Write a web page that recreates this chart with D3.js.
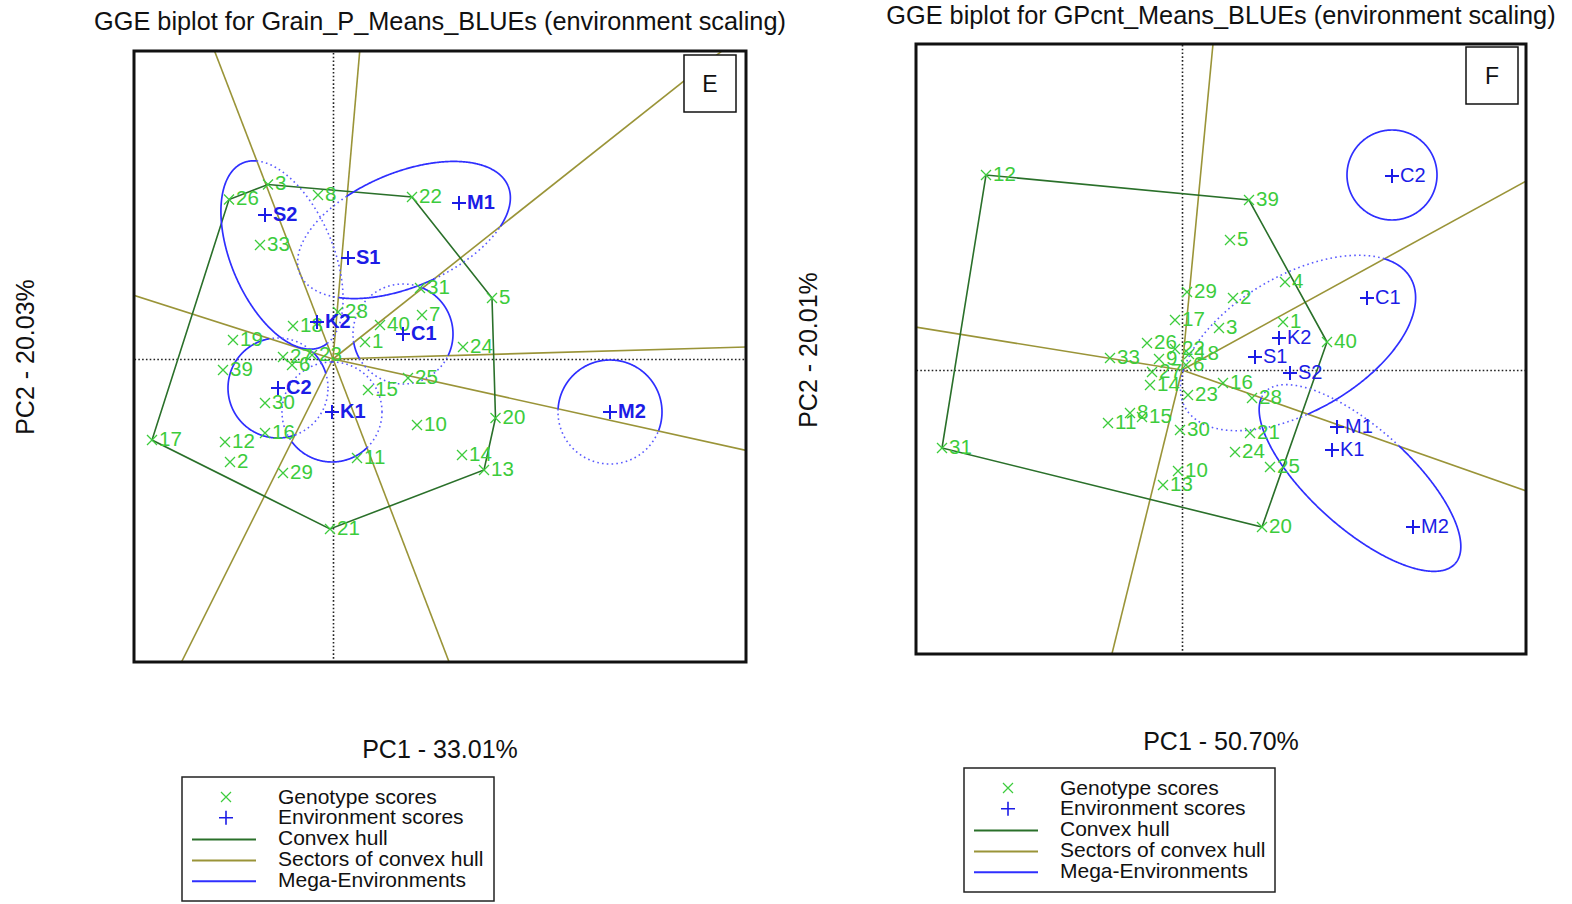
<!DOCTYPE html>
<html><head><meta charset="utf-8">
<script src="https://cdn.jsdelivr.net/npm/d3@7"></script>
<style>
body{margin:0;background:#fff}
svg{display:block}
text{font-family:"Liberation Sans",Arial,Helvetica,sans-serif}
</style>
</head><body>
<svg id="chart" width="1572" height="904"></svg>
<script>
// ---------------- Panel E : Grain_P ----------------
const titleE = "GGE biplot for Grain_P_Means_BLUEs (environment scaling)";
const xLabelE = "PC1 - 33.01%";
const yLabelE = "PC2 - 20.03%";
const pc1RangeE = [-1.99, 4.13];
const pc2RangeE = [-3.03, 3.08];
const genotypesE = [
  ["1",0.32,0.17],["2",-1.03,-1.03],["3",-0.65,1.745],["5",1.59,0.61],["6",-0.41,-0.06],
  ["7",0.89,0.44],["8",-0.15,1.64],["10",0.84,-0.66],["11",0.24,-0.99],["12",-1.08,-0.83],
  ["13",1.51,-1.11],["14",1.29,-0.96],["15",0.35,-0.31],["16",-0.68,-0.74],["17",-1.81,-0.81],
  ["18",-0.40,0.33],["19",-1.00,0.19],["20",1.625,-0.59],["21",-0.03,-1.70],["22",0.79,1.62],
  ["23",-0.21,0.04],["24",1.30,0.12],["25",0.75,-0.19],["26",-1.04,1.595],["27",-0.50,0.02],
  ["28",0.05,0.47],["29",-0.50,-1.14],["30",-0.68,-0.44],["31",0.87,0.71],["33",-0.73,1.14],
  ["39",-1.10,-0.11],["40",0.47,0.34]
];
const environmentsE = [
  ["S2",-0.68,1.44],["S1",0.15,1.01],["M1",1.26,1.56],["K2",-0.16,0.37],
  ["C1",0.70,0.25],["C2",-0.55,-0.29],["K1",-0.01,-0.53],["M2",2.77,-0.53]
];
// mega-environments: members, centre pc1, centre pc2, semi-axis a, semi-axis b, rotation (deg)
const megaEnvE = [
  [["S2","K2"],-0.51,1.04,1.00,0.51,-67],
  [["M1","S1"],0.71,1.29,1.13,0.57,23],
  [["C1"],0.70,0.25,0.50,0.50,0],
  [["C2"],-0.55,-0.29,0.50,0.50,0],
  [["K1"],-0.01,-0.53,0.50,0.50,0],
  [["M2"],2.77,-0.53,0.52,0.52,0]
];

// ---------------- Panel F : GPcnt ----------------
const titleF = "GGE biplot for GPcnt_Means_BLUEs (environment scaling)";
const xLabelF = "PC1 - 50.70%";
const yLabelF = "PC2 - 20.01%";
const pc1RangeF = [-2.66, 3.44];
const pc2RangeF = [-2.84, 3.26];
const genotypesF = [
  ["1",1.01,0.48],["2",0.51,0.72],["3",0.37,0.42],["4",1.03,0.88],["5",0.48,1.30],
  ["6",0.04,0.05],["8",-0.52,-0.43],["9",-0.23,0.11],["10",-0.04,-1.01],["11",-0.74,-0.53],
  ["12",-1.96,1.95],["13",-0.19,-1.15],["14",-0.32,-0.15],["15",-0.40,-0.47],["16",0.41,-0.13],
  ["17",-0.07,0.50],["18",0.07,0.16],["20",0.80,-1.57],["21",0.68,-0.63],["22",-0.07,0.21],
  ["23",0.06,-0.25],["24",0.53,-0.82],["25",0.88,-0.97],["26",-0.35,0.27],["27",-0.30,-0.02],
  ["28",0.70,-0.28],["29",0.05,0.78],["30",-0.02,-0.60],["31",-2.40,-0.78],["33",-0.72,0.12],
  ["39",0.67,1.70],["40",1.45,0.28]
];
const environmentsF = [
  ["C2",2.10,1.94],["C1",1.85,0.72],["K2",0.97,0.32],["S1",0.73,0.13],
  ["S2",1.08,-0.03],["M1",1.55,-0.57],["K1",1.50,-0.80],["M2",2.31,-1.57]
];
const megaEnvF = [
  [["C2"],2.10,1.95,0.45,0.45,0],
  [["C1","K2","S1","S2"],1.16,0.27,1.30,0.68,30],
  [["M2","M1","K1"],1.78,-1.08,1.28,0.50,-42]
];

const legendItems = ["Genotype scores","Environment scores","Convex hull","Sectors of convex hull","Mega-Environments"];

// ---------------- styles ----------------
const C = {
  geno: "#3ccc3c",
  env: "#1c1ce6",
  hull: "#2a702a",
  sector: "#9a9438",
  mega: "#2f2fff",
  megaDot: "#5a5aff"
};

const svg = d3.select("#chart");

function winner(hull, x, y) {
  let best = -Infinity, bi = -1;
  hull.forEach((v, i) => { const d = v[0]*x + v[1]*y; if (d > best) { best = d; bi = i; } });
  return bi;
}

function panel(cfg) {
  const g = svg.append("g");
  const sx = d3.scaleLinear().domain(cfg.xDom).range([cfg.box[0], cfg.box[2]]);
  const sy = d3.scaleLinear().domain(cfg.yDom).range([cfg.box[3], cfg.box[1]]);
  const clipId = "clip" + cfg.id;
  svg.append("clipPath").attr("id", clipId).append("rect")
    .attr("x", cfg.box[0]).attr("y", cfg.box[1])
    .attr("width", cfg.box[2]-cfg.box[0]).attr("height", cfg.box[3]-cfg.box[1]);
  const inner = g.append("g").attr("clip-path", `url(#${clipId})`);

  // origin dotted axes
  const xa = d3.axisBottom(sx).tickValues([]).tickSizeOuter(0);
  const ya = d3.axisLeft(sy).tickValues([]).tickSizeOuter(0);
  inner.append("g").attr("transform", `translate(0,${sy(0)})`).call(xa)
    .select(".domain").attr("stroke","#222").attr("stroke-width",1.6).attr("stroke-dasharray","1.6,2.2");
  inner.append("g").attr("transform", `translate(${sx(0)},0)`).call(ya)
    .select(".domain").attr("stroke","#222").attr("stroke-width",1.6).attr("stroke-dasharray","1.6,2.2");

  const pts = cfg.geno.map(d => [d[1], d[2]]);
  const hull = d3.polygonHull(pts);

  // sector rays (perpendicular to hull edges)
  hull.forEach((v, i) => {
    const w = hull[(i+1) % hull.length];
    let nx = w[1]-v[1], ny = -(w[0]-v[0]);
    if (nx*v[0] + ny*v[1] < 0) { nx = -nx; ny = -ny; }
    const L = Math.hypot(nx, ny);
    inner.append("line")
      .attr("x1", sx(0)).attr("y1", sy(0))
      .attr("x2", sx(nx/L*12)).attr("y2", sy(ny/L*12))
      .attr("stroke", C.sector).attr("stroke-width", 1.6);
  });

  // convex hull
  const line = d3.line().x(d => sx(d[0])).y(d => sy(d[1]));
  inner.append("path").attr("d", line(hull.concat([hull[0]])))
    .attr("fill","none").attr("stroke", C.hull).attr("stroke-width", 1.6);

  // mega-environment ellipses
  cfg.mega.forEach(me => {
    const [members, cx, cy, a, b, rot] = me;
    const env = cfg.env.find(e => e[0] === members[0]);
    const win = winner(hull, env[1], env[2]);
    const th = rot * Math.PI / 180;
    const N = 720;
    const ep = d3.range(N+1).map(i => {
      const t = i / N * 2 * Math.PI;
      const ex = a*Math.cos(t), ey = b*Math.sin(t);
      const px = cx + ex*Math.cos(th) - ey*Math.sin(th);
      const py = cy + ex*Math.sin(th) + ey*Math.cos(th);
      return [px, py, winner(hull, px, py) === win];
    });
    let runs = [], cur = [ep[0]];
    for (let i = 1; i < ep.length; i++) {
      if (ep[i][2] === cur[0][2]) cur.push(ep[i]);
      else { cur.push(ep[i]); runs.push(cur); cur = [ep[i]]; }
    }
    runs.push(cur);
    runs.forEach(r => {
      const solid = r[0][2];
      inner.append("path").attr("d", line(r)).attr("fill","none")
        .attr("stroke", solid ? C.mega : C.megaDot)
        .attr("stroke-width", solid ? 1.7 : 1.6)
        .attr("stroke-dasharray", solid ? null : "1.6,3.2");
    });
  });

  // genotype markers
  const gg = inner.append("g");
  cfg.geno.forEach(d => {
    const x = sx(d[1]), y = sy(d[2]);
    gg.append("path").attr("d", `M${x-5},${y-5}L${x+5},${y+5}M${x-5},${y+5}L${x+5},${y-5}`)
      .attr("stroke", C.geno).attr("stroke-width", 1.3);
    gg.append("text").attr("x", x+7).attr("y", y-1.5).attr("dy","0.36em")
      .attr("font-size", 20.5).attr("fill", C.geno).text(d[0]);
  });
  // environment markers
  const eg = inner.append("g");
  cfg.env.forEach(d => {
    const x = sx(d[1]), y = sy(d[2]);
    eg.append("path").attr("d", `M${x-7},${y}H${x+7}M${x},${y-7}V${y+7}`)
      .attr("stroke", C.env).attr("stroke-width", 2);
    eg.append("text").attr("x", x+8).attr("y", y-1).attr("dy","0.36em")
      .attr("font-size", 20).attr("font-weight", cfg.envBold ? "bold" : "normal")
      .attr("fill", C.env).text(d[0]);
  });

  // frame
  g.append("rect").attr("x", cfg.box[0]).attr("y", cfg.box[1])
    .attr("width", cfg.box[2]-cfg.box[0]).attr("height", cfg.box[3]-cfg.box[1])
    .attr("fill","none").attr("stroke","#111").attr("stroke-width",3);

  // panel letter
  const lb = cfg.letterBox;
  g.append("rect").attr("x", lb[0]).attr("y", lb[1]).attr("width", 52).attr("height", 57)
    .attr("fill","#fff").attr("stroke","#111").attr("stroke-width",1.5);
  g.append("text").attr("x", lb[0]+26).attr("y", lb[1]+29).attr("dy","0.36em")
    .attr("text-anchor","middle").attr("font-size", 23).attr("fill","#111").text(cfg.letter);

  // titles
  g.append("text").attr("x", cfg.titlePos[0]).attr("y", cfg.titlePos[1]).attr("dy","0.36em")
    .attr("text-anchor","middle").attr("font-size", 25.3).attr("fill","#111").text(cfg.title);
  g.append("text").attr("x", cfg.xLabPos[0]).attr("y", cfg.xLabPos[1]).attr("dy","0.36em")
    .attr("text-anchor","middle").attr("font-size", 25).attr("fill","#111").text(cfg.xLab);
  g.append("text").attr("transform", `translate(${cfg.yLabPos[0]},${cfg.yLabPos[1]}) rotate(-90)`)
    .attr("dy","0.36em").attr("text-anchor","middle").attr("font-size", 25).attr("fill","#111").text(cfg.yLab);

  // legend
  const L = cfg.legend; // x, y, w, h
  const lg = g.append("g");
  lg.append("rect").attr("x", L[0]).attr("y", L[1]).attr("width", L[2]).attr("height", L[3])
    .attr("fill","#fff").attr("stroke","#222").attr("stroke-width",1.5);
  const symX = L[0] + 44, lx1 = L[0] + 10, lx2 = L[0] + 74, tx = L[0] + 96;
  legendItems.forEach((t, i) => {
    const y = L[1] + 19 + i*20.8;
    if (i === 0) lg.append("path").attr("d", `M${symX-5},${y-4}L${symX+5},${y+6}M${symX-5},${y+6}L${symX+5},${y-4}`)
      .attr("stroke", C.geno).attr("stroke-width",1.2);
    else if (i === 1) lg.append("path").attr("d", `M${symX-7},${y+1}H${symX+7}M${symX},${y-6}V${y+8}`)
      .attr("stroke", C.env).attr("stroke-width",1.6);
    else lg.append("line").attr("x1", lx1).attr("x2", lx2).attr("y1", y+2).attr("y2", y+2)
      .attr("stroke", [C.hull, C.sector, C.mega][i-2]).attr("stroke-width", 2);
    lg.append("text").attr("x", tx).attr("y", y).attr("dy","0.36em")
      .attr("font-size", 21).attr("fill","#111").text(t);
  });
}

panel({
  id:"E", box:[134,51,746,662], xDom:pc1RangeE, yDom:pc2RangeE,
  geno:genotypesE, env:environmentsE, mega:megaEnvE, envBold:true,
  letter:"E", letterBox:[684,55],
  title:titleE, titlePos:[440,21], xLab:xLabelE, xLabPos:[440,749], yLab:yLabelE, yLabPos:[25,357],
  legend:[182,777,312,124]
});
panel({
  id:"F", box:[916,44,1526,654], xDom:pc1RangeF, yDom:pc2RangeF,
  geno:genotypesF, env:environmentsF, mega:megaEnvF, envBold:false,
  letter:"F", letterBox:[1466,47],
  title:titleF, titlePos:[1221,15], xLab:xLabelF, xLabPos:[1221,741], yLab:yLabelF, yLabPos:[808,350],
  legend:[964,768,311,124]
});
</script>
</body></html>
